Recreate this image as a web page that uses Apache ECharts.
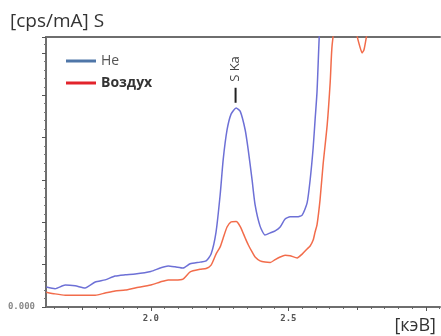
<!DOCTYPE html>
<html>
<head>
<meta charset="utf-8">
<script src="https://cdn.jsdelivr.net/npm/echarts@6/dist/echarts.min.js"></script>
<style>
  html, body { margin: 0; padding: 0; background: #fff; }
  #chart { width: 441px; height: 336px; }
</style>
</head>
<body>
<div id="chart"></div>
<script>
// energy grid shared by both spectra (keV)
const energy = [
  1.620, 1.652, 1.689, 1.725, 1.761, 1.798, 1.834, 1.870, 1.907, 1.943,
  2.000, 2.034, 2.063, 2.088, 2.117, 2.143, 2.179, 2.201, 2.219, 2.237,
  2.252, 2.263, 2.277, 2.292, 2.310, 2.325, 2.343, 2.354, 2.368, 2.379,
  2.397, 2.415, 2.434, 2.452, 2.470, 2.488, 2.506, 2.532, 2.550, 2.568,
  2.579, 2.590, 2.597, 2.604, 2.615, 2.626, 2.641, 2.652, 2.659, 2.688,
  2.724, 2.750, 2.761, 2.768, 2.775, 2.786, 2.833, 2.906, 2.979, 3.051
];

// intensity, He atmosphere
const heCounts = [
  0.47, 0.43, 0.52, 0.50, 0.45, 0.59, 0.64, 0.73, 0.76, 0.78,
  0.84, 0.92, 0.97, 0.95, 0.92, 1.02, 1.06, 1.09, 1.25, 1.77,
  2.65, 3.48, 4.18, 4.56, 4.70, 4.62, 4.18, 3.71, 3.00, 2.41,
  1.91, 1.70, 1.75, 1.80, 1.89, 2.08, 2.13, 2.13, 2.17, 2.46,
  3.00, 3.76, 4.42, 5.08, 6.80, 7.50, 8.50, 9.00, 9.00, 9.00,
  9.00, 9.00, 9.00, 9.00, 9.00, 9.00, 9.00, 9.00, 9.00, 9.00
];

// intensity, air
const airCounts = [
  0.35, 0.31, 0.28, 0.28, 0.28, 0.28, 0.33, 0.38, 0.40, 0.45,
  0.52, 0.59, 0.64, 0.64, 0.66, 0.83, 0.89, 0.91, 0.99, 1.25,
  1.42, 1.63, 1.89, 2.01, 2.02, 1.90, 1.63, 1.47, 1.30, 1.18,
  1.09, 1.06, 1.05, 1.12, 1.18, 1.22, 1.21, 1.16, 1.25, 1.37,
  1.44, 1.58, 1.77, 1.94, 2.53, 3.36, 4.30, 5.32, 6.19, 7.50,
  8.00, 6.40, 6.12, 6.00, 6.08, 6.45, 7.50, 8.00, 8.00, 8.00
];

const seriesNames = ['He', 'Воздух'];
const xMajorTicks = [2.0, 2.5, 3.0];
const xLabelTicks = [2.0, 2.5];
const xMidTicks = [1.75, 2.25, 2.75];
const xMinorTicks = [
  1.65, 1.70, 1.80, 1.85, 1.90, 1.95, 2.05, 2.10, 2.15, 2.20,
  2.30, 2.35, 2.40, 2.45, 2.55, 2.60, 2.65, 2.70, 2.80, 2.85,
  2.90, 2.95, 3.05
];
const peakLabel = 'S Ka';
const peakEnergy = 2.308;

const X_MIN = 1.619, X_MAX = 3.051;
const axisGray = '#6e6e6e';

const chart = echarts.init(document.getElementById('chart'));

const baseX = {
  type: 'value', min: X_MIN, max: X_MAX,
  splitLine: { show: false },
  axisLine: { show: false, onZero: false },
  axisLabel: { show: false },
  axisTick: { show: false }
};

chart.setOption({
  animation: false,
  grid: { left: 46, right: 1, top: 37, bottom: 29 },
  title: [
    { text: '[cps/mA] S', left: 5, top: 7,
      textStyle: { fontFamily: 'Open Sans', fontSize: 19, fontWeight: 'normal', color: '#333' } },
    { text: '[кэВ]', right: 0, top: 312,
      textStyle: { fontFamily: 'Open Sans', fontSize: 18, fontWeight: 'normal', color: '#333' } }
  ],
  legend: {
    orient: 'vertical', left: 61, top: 48,
    icon: 'rect', itemWidth: 30, itemHeight: 3, itemGap: 6,
    textStyle: { fontFamily: 'Open Sans', fontSize: 14, lineHeight: 16, color: '#555' },
    data: [
      { name: seriesNames[0], itemStyle: { color: '#4f76a8' }, lineStyle: { color: '#4f76a8' } },
      { name: seriesNames[1], itemStyle: { color: '#e2232b' }, lineStyle: { color: '#e2232b' },
        textStyle: { fontWeight: 'bold', color: '#333' } }
    ]
  },
  xAxis: [
    Object.assign({}, baseX, {
      position: 'bottom',
      axisLine: { show: true, onZero: false, lineStyle: { color: axisGray, width: 2 } },
      axisTick: { show: true, customValues: xMajorTicks, length: 4, lineStyle: { color: '#555', width: 1 } },
      axisLabel: { show: true, customValues: xLabelTicks, margin: 7,
        formatter: v => v.toFixed(1),
        fontFamily: 'DejaVu Sans Mono', fontWeight: 'bold', fontSize: 9, color: '#555' }
    }),
    Object.assign({}, baseX, {
      position: 'bottom',
      axisTick: { show: true, customValues: xMidTicks, length: 3, lineStyle: { color: '#555', width: 1 } }
    }),
    Object.assign({}, baseX, {
      position: 'bottom',
      axisTick: { show: true, customValues: xMinorTicks, length: 2, lineStyle: { color: '#666', width: 1 } }
    }),
    Object.assign({}, baseX, {
      position: 'top',
      axisLine: { show: true, onZero: false, lineStyle: { color: axisGray, width: 2 } }
    })
  ],
  yAxis: {
    type: 'value', min: 0, max: 6.376, interval: 1,
    splitLine: { show: false },
    axisLine: { show: true, lineStyle: { color: axisGray, width: 2 } },
    axisTick: { show: true, length: 4, lineStyle: { color: '#555' } },
    minorTick: { show: true, splitNumber: 5, length: 2, lineStyle: { color: '#777' } },
    axisLabel: {
      showMaxLabel: false, margin: 11,
      formatter: v => (v === 0 ? '0.000' : ''),
      fontFamily: 'DejaVu Sans Mono', fontWeight: 'bold', fontSize: 9, color: '#888'
    }
  },
  series: [
    {
      name: seriesNames[0], type: 'line', xAxisIndex: 0,
      data: energy.map((e, i) => [e, heCounts[i]]),
      showSymbol: false, smooth: 0.2,
      lineStyle: { color: '#6d70d6', width: 1.5 },
      itemStyle: { color: '#6d70d6' },
      markPoint: {
        silent: true,
        data: [
          { coord: [peakEnergy, 5.0], symbol: 'rect', symbolSize: [2, 15],
            itemStyle: { color: '#222' }, label: { show: false } },
          { coord: [peakEnergy, 5.62], symbol: 'rect', symbolSize: 0,
            label: { show: true, position: 'inside', formatter: peakLabel, rotate: 90,
              fontFamily: 'Open Sans', fontSize: 13, color: '#444' } }
        ]
      }
    },
    {
      name: seriesNames[1], type: 'line', xAxisIndex: 0,
      data: energy.map((e, i) => [e, airCounts[i]]),
      showSymbol: false, smooth: 0.2,
      lineStyle: { color: '#f26c4b', width: 1.5 },
      itemStyle: { color: '#f26c4b' }
    }
  ]
});
</script>
</body>
</html>
